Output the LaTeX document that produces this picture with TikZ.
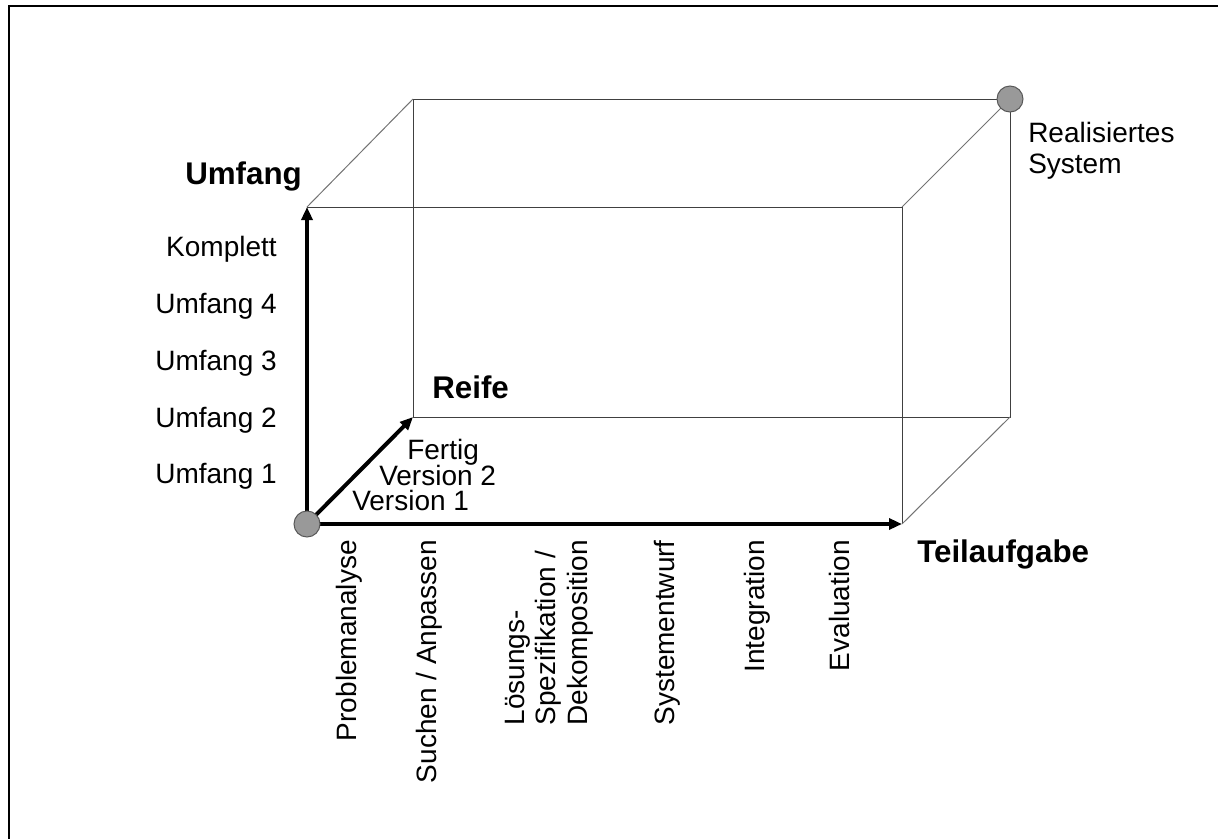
\documentclass[tikz,border=0pt]{standalone}
\usepackage{fontspec}
\setmainfont{Liberation Sans}
\usetikzlibrary{arrows.meta}
\begin{document}
\begin{tikzpicture}[x=0.75pt,y=-0.75pt,
  edge/.style={draw=black!75,line width=0.75pt},
  diag/.style={draw=black!55,line width=0.75pt},
  axis/.style={line width=3pt,-{Triangle[length=9.75pt,width=8.25pt]}},
  dot/.style={circle,draw=black!65,line width=0.75pt,fill=black!40,minimum size=19.5pt,inner sep=0pt},
  lbl/.style={font=\fontsize{21pt}{23.5pt}\selectfont,inner sep=0pt},
  ttl/.style={font=\fontsize{23.5pt}{26pt}\selectfont\bfseries,inner sep=0pt},
  vlbl/.style={lbl,rotate=90,anchor=east,align=left}]
\useasboundingbox (0,0) rectangle (1218,839);
% page frame
\draw[line width=1.9pt] (9,839) -- (9,6) -- (1218,6);

% corners of the cuboid
\coordinate (O)  at (307,524);
\coordinate (FT) at (307,207);
\coordinate (FTR) at (902,207);
\coordinate (FBR) at (902,524);
\coordinate (BBL) at (413,417);
\coordinate (BTL) at (413,99);
\coordinate (BTR) at (1010,99);
\coordinate (BBR) at (1010,417);

% thin edges
\draw[edge] (FT) -- (FTR) -- (FBR);
\draw[edge] (BBL) -- (BTL) -- (BTR) -- (BBR) -- cycle;
\draw[diag] (FT) -- (BTL);
\draw[diag] (FTR) -- (BTR);
\draw[diag] (FBR) -- (BBR);

% axes
\draw[axis] (O) -- (FT);
\draw[axis] (O) -- (FBR);
\draw[axis] (O) -- (BBL);

% start and end points
\node[dot] (start) at (O) {};
\node[dot] (goal) at (BTR) {};

% axis titles
\node[ttl,anchor=base west] (umfang) at (185,184) {Umfang};
\node[ttl,anchor=base west] (reife) at (432,398) {Reife};
\node[ttl,anchor=base west] (teil) at (917,562) {Teilaufgabe};
\node[lbl,anchor=north west,align=left] (real) at (1028,122) {Realisiertes\\System};

% scope levels
\node[lbl,anchor=base east] (u5) at (277,256) {Komplett};
\node[lbl,anchor=base east] (u4) at (277,313) {Umfang 4};
\node[lbl,anchor=base east] (u3) at (277,370) {Umfang 3};
\node[lbl,anchor=base east] (u2) at (277,427) {Umfang 2};
\node[lbl,anchor=base east] (u1) at (277,483) {Umfang 1};

% maturity levels
\node[lbl,anchor=base west] (r3) at (407,459) {Fertig};
\node[lbl,anchor=base west] (r2) at (379,485) {Version 2};
\node[lbl,anchor=base west] (r1) at (352,510) {Version 1};

% subtasks
\node[vlbl] (t1) at (349,540) {Problemanalyse};
\node[vlbl] (t2) at (429,540) {Suchen / Anpassen};
\node[vlbl] (t3) at (549,540) {Lösungs-\\Spezifikation /\\Dekomposition};
\node[vlbl] (t4) at (667,540) {Systementwurf};
\node[vlbl] (t5) at (757,540) {Integration};
\node[vlbl] (t6) at (839,540) {Evaluation};
\end{tikzpicture}
\end{document}
